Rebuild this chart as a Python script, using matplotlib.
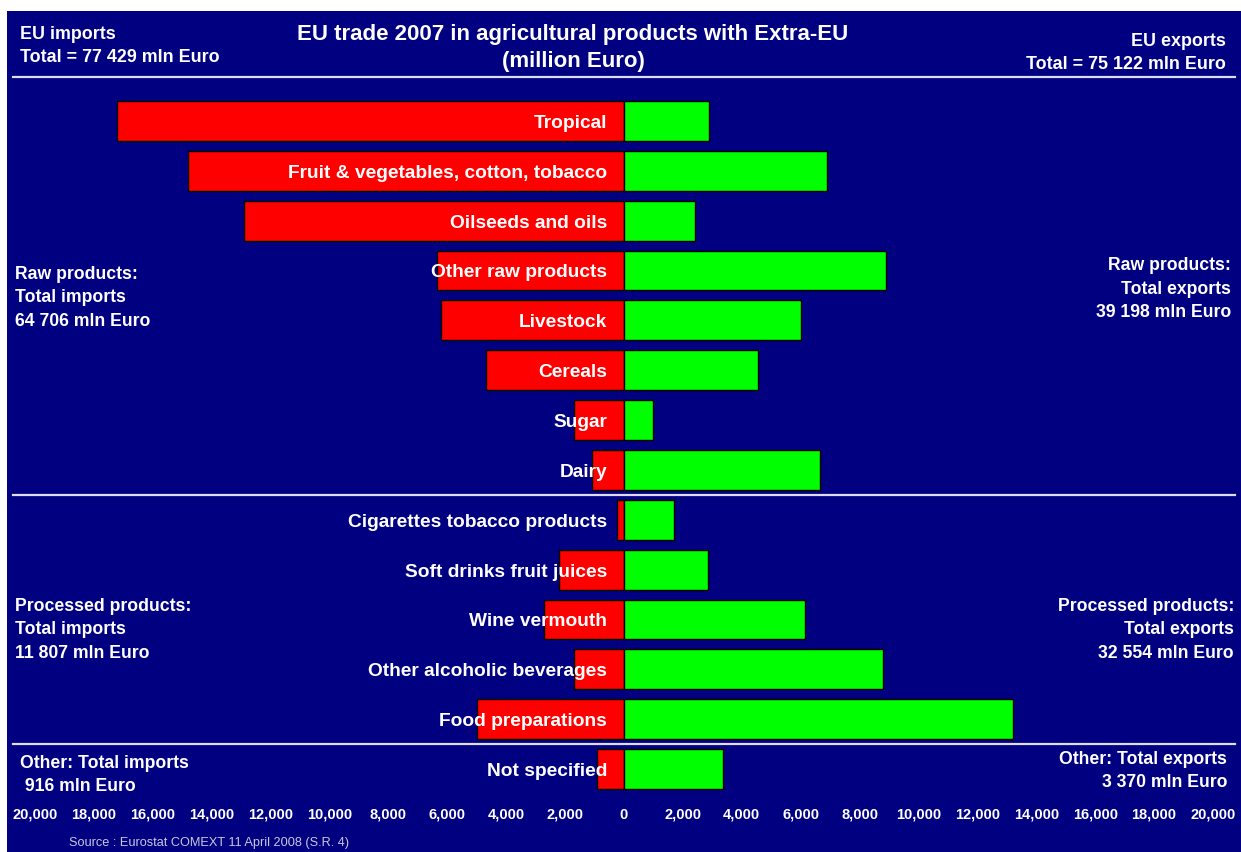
import matplotlib
matplotlib.use('Agg')
from matplotlib import pyplot as plt
from matplotlib.patches import Rectangle
from matplotlib.lines import Line2D
import numpy as np

# categories top to bottom
categories = ["Tropical", "Fruit & vegetables, cotton, tobacco", "Oilseeds and oils",
              "Other raw products", "Livestock", "Cereals", "Sugar", "Dairy",
              "Cigarettes tobacco products", "Soft drinks fruit juices", "Wine vermouth",
              "Other alcoholic beverages", "Food preparations", "Not specified"]

# million Euro
imports = [17200, 14800, 12900, 6350, 6200, 4700, 1700, 1100,
           240, 2200, 2700, 1700, 5000, 916]
exports = [2900, 6900, 2400, 8900, 6000, 4550, 1000, 6650,
           1700, 2850, 6150, 8800, 13200, 3370]

ticks = list(range(-20000, 20001, 2000))

W, H = 1241, 852
navy = '#000080'
plt.rcParams['font.family'] = ['Liberation Sans', 'DejaVu Sans']

fig = plt.figure(figsize=(W / 100, H / 100), dpi=100, facecolor='white')
fig.patches.append(Rectangle((7 / W, 0), 1, 1 - 11 / H, transform=fig.transFigure,
                             facecolor=navy, edgecolor='none', zorder=-10))

def px(x, y):
    # pixel position -> figure fraction (text blocks sit ~2px high with va=center)
    return x / W, 1 - (y + 2) / H

ax = fig.add_axes([35 / W, 1 - 794 / H, (1213 - 35) / W, (794 - 96) / H])
ax.patch.set_alpha(0)

y = np.arange(len(categories))
ax.barh(y, [-v for v in imports], height=0.8, color='#ff0000', edgecolor='black', lw=1)
ax.barh(y, exports, height=0.8, color='#00ff00', edgecolor='black', lw=1)

for yi, name in zip(y, categories):
    ax.text(-580, yi + 0.05, name, ha='right', va='center', color='white',
            fontsize=13.75, fontweight='bold', zorder=5)

ax.set_xlim(-20000, 20000)
ax.set_ylim(len(categories) - 0.5, -0.5)
ax.set_yticks([])
ax.set_xticks(ticks)
ax.set_xticklabels([f"{abs(t):,}" for t in ticks])
ax.tick_params(axis='x', length=0, pad=10, colors='white', labelsize=10.5)
for lab in ax.get_xticklabels():
    lab.set_fontweight('bold')
for s in ax.spines.values():
    s.set_visible(False)

# separator lines
sep = '#dcdcf4'
for yy in [7.5, 12.5]:
    ax.axhline(yy, xmin=(13 - 35) / 1178, xmax=(1235 - 35) / 1178, color=sep, lw=1.6, clip_on=False)
fig.add_artist(Line2D([13 / W, 1235 / W], [1 - 77 / H] * 2, color=sep, lw=1.6))

# title and corner texts
tkw = dict(color='white', fontweight='bold')
fig.text(*px(573, 46), "EU trade 2007 in agricultural products with Extra-EU\n(million Euro)",
         ha='center', va='center', fontsize=16, linespacing=1.43, **tkw)
fig.text(*px(20, 44), "EU imports\nTotal = 77 429 mln Euro", ha='left', va='center',
         fontsize=12.9, linespacing=1.39, **tkw)
fig.text(*px(1226, 51), "EU exports\nTotal = 75 122 mln Euro", ha='right', va='center',
         fontsize=12.9, linespacing=1.39, multialignment='right', **tkw)

side = dict(fontsize=12.7, linespacing=1.52, **tkw)
fig.text(*px(15, 296), "Raw products:\nTotal imports\n64 706 mln Euro", ha='left', va='center', **side)
fig.text(*px(1231, 287), "Raw products:\nTotal exports\n39 198 mln Euro", ha='right', va='center',
         multialignment='right', **side)
fig.text(*px(15, 628), "Processed products:\nTotal imports\n11 807 mln Euro", ha='left', va='center', **side)
fig.text(*px(1234, 628), "Processed products:\nTotal exports\n32 554 mln Euro", ha='right', va='center',
         multialignment='right', **side)
fig.text(*px(20, 773), "Other: Total imports\n 916 mln Euro", ha='left', va='center', **side)
fig.text(*px(1227, 769), "Other: Total exports\n3 370 mln Euro", ha='right', va='center',
         multialignment='right', **side)

fig.text(*px(69, 841), "Source : Eurostat COMEXT 11 April 2008 (S.R. 4)", ha='left', va='center',
         fontsize=9.2, color='#c8c8e0')

fig.savefig('out.png', dpi=100, facecolor=fig.get_facecolor())
